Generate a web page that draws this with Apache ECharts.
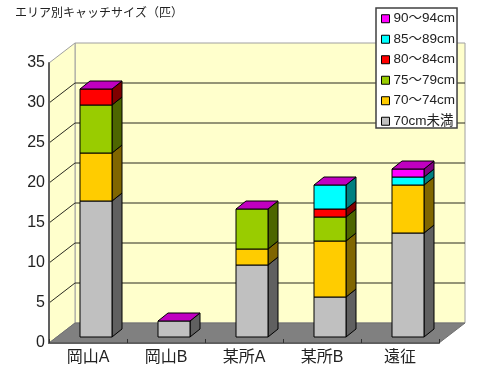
<!DOCTYPE html>
<html>
<head>
<meta charset="utf-8">
<script src="https://cdn.jsdelivr.net/npm/echarts@6/dist/echarts.min.js"></script>
<style>
  html, body { margin: 0; padding: 0; background: #fff; }
  #main { width: 498px; height: 381px; }
</style>
</head>
<body>
<div id="main"></div>
<script>
const categories = ['岡山A', '岡山B', '某所A', '某所B', '遠征'];
const under70 = [17, 2, 9, 5, 13];
const size70 = [6, 0, 2, 7, 6];
const size75 = [6, 0, 5, 3, 0];
const size80 = [2, 0, 0, 1, 0];
const size85 = [0, 0, 0, 3, 1];
const size90 = [0, 0, 0, 0, 1];
const yTicks = [0, 5, 10, 15, 20, 25, 30, 35];

const seriesDefs = [
  { name: '70cm未満', values: under70, color: '#c0c0c0', side: '#606060' },
  { name: '70～74cm', values: size70, color: '#ffcc00', side: '#806600' },
  { name: '75～79cm', values: size75, color: '#99cc00', side: '#4d6600' },
  { name: '80～84cm', values: size80, color: '#ff0000', side: '#800000' },
  { name: '85～89cm', values: size85, color: '#00ffff', side: '#008080' },
  { name: '90～94cm', values: size90, color: '#ff00ff', side: '#800080' }
];

const font = '"Liberation Sans", "Noto Sans CJK JP", sans-serif';
const topColor = '#c000c0';
const wallColor = '#ffffcc';
const edgeColor = '#a0a0a0';

// 奥行き
const wallDx = 26, wallDy = 20;
const barShiftX = 8, barShiftY = 6, barW = 32, barDx = 10, barDy = 8;

const myChart = echarts.init(document.getElementById('main'));

function renderWalls(params, api) {
  const c = params.coordSys;
  const x0 = c.x, x1 = c.x + c.width, y0 = c.y, y1 = c.y + c.height;
  const children = [
    { // 背面
      type: 'rect',
      shape: { x: x0 + wallDx, y: y0 - wallDy, width: c.width, height: c.height },
      style: { fill: wallColor, stroke: edgeColor, lineWidth: 1 }
    },
    { // 左側面
      type: 'polygon',
      shape: { points: [[x0, y0], [x0 + wallDx, y0 - wallDy], [x0 + wallDx, y1 - wallDy], [x0, y1]] },
      style: { fill: wallColor, stroke: edgeColor, lineWidth: 1 }
    },
    { // 床
      type: 'polygon',
      shape: { points: [[x0, y1], [x0 + wallDx, y1 - wallDy], [x1 + wallDx, y1 - wallDy], [x1, y1]] },
      style: { fill: '#808080', stroke: '#707070', lineWidth: 1 }
    }
  ];
  yTicks.slice(1, -1).forEach((t) => {
    const y = Math.round(api.coord([0, t])[1]);
    children.push({
      type: 'polyline',
      shape: { points: [[x0, y], [x0 + wallDx, y - wallDy], [x1 + wallDx, y - wallDy]] },
      style: { fill: 'none', stroke: '#2a2a20', lineWidth: 1 }
    });
  });
  return { type: 'group', children };
}

function makeRenderBar(def, isLast) {
  return function (params, api) {
    const idx = api.value(0);
    const base = api.value(1);
    const top = api.value(2);
    const px = api.coord([idx, base]);
    const pt = api.coord([idx, top]);
    const xl = Math.round(px[0] + barShiftX - barW / 2);
    const xr = xl + barW;
    const yb = Math.round(px[1] - barShiftY);
    const yt = Math.round(pt[1] - barShiftY);
    const line = { stroke: '#000', lineWidth: 1 };
    const children = [];
    if (top > base) {
      children.push({
        type: 'polygon',
        shape: { points: [[xr, yb], [xr + barDx, yb - barDy], [xr + barDx, yt - barDy], [xr, yt]] },
        style: { fill: def.side, ...line }
      });
      children.push({
        type: 'rect',
        shape: { x: xl, y: yt, width: barW, height: yb - yt },
        style: { fill: def.color, ...line }
      });
    }
    if (isLast) {
      // 上面は最後の系列の色
      children.push({
        type: 'polygon',
        shape: { points: [[xl, yt], [xl + barDx, yt - barDy], [xr + barDx, yt - barDy], [xr, yt]] },
        style: { fill: topColor, ...line }
      });
    }
    return { type: 'group', children };
  };
}

const running = categories.map(() => 0);
const barSeries = seriesDefs.map((def, i) => {
  const rows = def.values.map((v, idx) => {
    const base = running[idx];
    running[idx] = base + v;
    return [idx, base, base + v];
  });
  return {
    name: def.name,
    type: 'custom',
    coordinateSystem: 'cartesian2d',
    renderItem: makeRenderBar(def, i === seriesDefs.length - 1),
    encode: { x: 0, y: 2 },
    itemStyle: { color: def.color },
    clip: false,
    silent: true,
    z: 3,
    data: rows
  };
});

myChart.setOption({
  animation: false,
  backgroundColor: '#fff',
  title: {
    text: 'エリア別キャッチサイズ（匹）',
    left: 15,
    top: 8,
    padding: 0,
    textStyle: { fontFamily: font, fontSize: 12, fontWeight: 'normal', color: '#222' }
  },
  legend: {
    left: 376,
    top: 8,
    height: 300,
    orient: 'vertical',
    padding: [4, 2, 0, 5],
    itemWidth: 8,
    itemHeight: 8,
    itemGap: 7,
    backgroundColor: '#fff',
    borderColor: '#404040',
    borderWidth: 1.5,
    borderRadius: 0,
    selectedMode: false,
    z: 10,
    textStyle: { fontFamily: font, fontSize: 13.5, lineHeight: 12, color: '#222', padding: [0, 0, 0, -1] },
    data: seriesDefs.slice().reverse().map((d) => ({
      name: d.name,
      icon: 'rect',
      itemStyle: { color: d.color, borderColor: '#000', borderWidth: 1 }
    }))
  },
  grid: { left: 49, right: 59, top: 63, bottom: 38 },
  xAxis: {
    type: 'category',
    data: categories,
    axisLine: { lineStyle: { color: '#606060', width: 2 } },
    axisTick: { show: true, inside: true, length: 4, lineStyle: { color: '#303030' } },
    axisLabel: { fontFamily: font, fontSize: 16, color: '#222', margin: 7 },
    z: 2
  },
  yAxis: {
    type: 'value',
    min: 0,
    max: 35,
    interval: 5,
    splitLine: { show: false },
    axisLine: { show: true, lineStyle: { color: '#606060', width: 2 } },
    axisTick: { show: false },
    axisLabel: { fontFamily: font, fontSize: 16, color: '#222', margin: 4 },
    z: 2
  },
  series: [
    {
      type: 'custom',
      coordinateSystem: 'cartesian2d',
      renderItem: renderWalls,
      clip: false,
      silent: true,
      z: 1,
      data: [[0, 0]]
    }
  ].concat(barSeries)
});

window.addEventListener('resize', () => {
  myChart.resize();
});
</script>
</body>
</html>
